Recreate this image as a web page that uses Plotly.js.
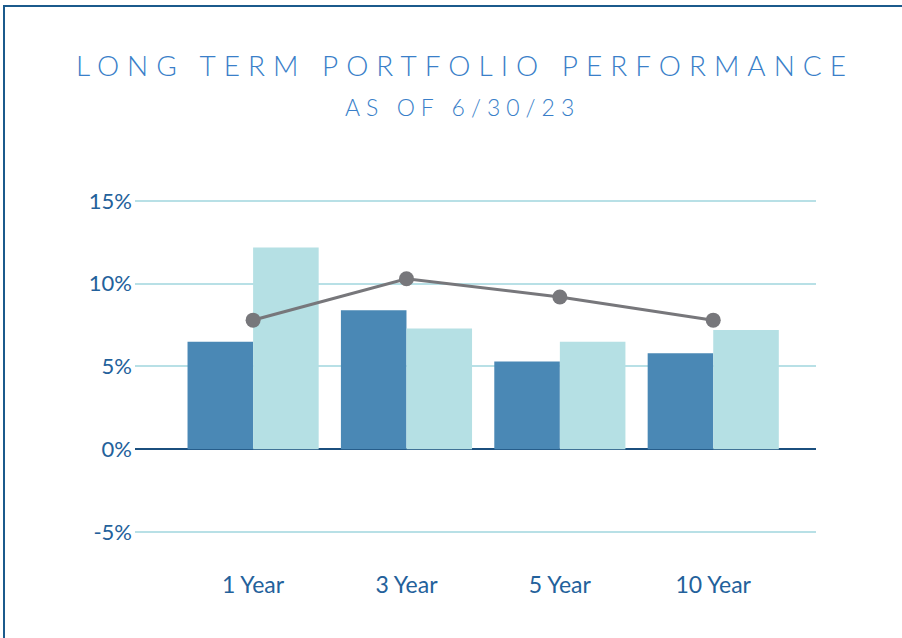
<!DOCTYPE html>
<html>
<head>
<meta charset="utf-8">
<script src="https://cdn.plot.ly/plotly-3.0.1.min.js"></script>
<style>
  html, body { margin: 0; padding: 0; background: #ffffff; }
  #wrap { position: relative; width: 902px; height: 638px; overflow: hidden; }
  #frame { position: absolute; left: 3px; top: 5px; width: 920px; height: 700px;
           border-left: 2.5px solid #1b5a8c; border-top: 2.5px solid #1b5a8c; box-sizing: border-box; pointer-events: none; z-index: 5; }
  #chart { position: absolute; left: 0; top: 0; width: 902px; height: 638px; }
  .gtitle { letter-spacing: 8px; }
  .annotation-text { letter-spacing: 6px; }
</style>
</head>
<body>
<div id="wrap">
  <div id="chart"></div>
  <div id="frame"></div>
</div>
<script>
const categories = ["1 Year", "3 Year", "5 Year", "10 Year"];
const seriesA = [6.5, 8.4, 5.3, 5.8];
const seriesB = [12.2, 7.3, 6.5, 7.2];
const lineSeries = [7.8, 10.3, 9.2, 7.8];
const yTickVals = [-5, 0, 5, 10, 15];
const yTickText = ["-5%", "0%", "5%", "10%", "15%"];

const yTickFont = { family: "Lato, 'Open Sans', sans-serif", size: 22, color: "#23619b", weight: 400 };
const xTickFont = { family: "Lato, 'Open Sans', sans-serif", size: 23, color: "#23619b", weight: 400 };

const data = [
  { type: "bar", x: categories, y: seriesA, marker: { color: "#4a88b5" }, hoverinfo: "skip", showlegend: false },
  { type: "bar", x: categories, y: seriesB, marker: { color: "#b5e0e4" }, hoverinfo: "skip", showlegend: false },
  { type: "scatter", mode: "lines+markers", x: categories, y: lineSeries,
    line: { color: "#77777b", width: 3 }, marker: { color: "#77777b", size: 15 },
    hoverinfo: "skip", showlegend: false }
];

const layout = {
  width: 902, height: 638,
  paper_bgcolor: "#ffffff", plot_bgcolor: "#ffffff",
  margin: { l: 135, r: 86, t: 168, b: 78 },
  barmode: "group", bargap: 0.145, bargroupgap: 0,
  showlegend: false,
  title: {
    text: "LONG TERM PORTFOLIO PERFORMANCE",
    font: { family: "Lato, 'Open Sans', sans-serif", size: 28, color: "#3a7fc9", weight: 300 },
    x: 0.5155, xref: "container", xanchor: "center",
    y: 0.8966, yref: "container", yanchor: "middle"
  },
  annotations: [{
    text: "AS OF 6/30/23", xref: "paper", yref: "paper", x: 0.4816, y: 1, xanchor: "center", yanchor: "middle",
    yshift: 168 - 107, showarrow: false,
    font: { family: "Lato, 'Open Sans', sans-serif", size: 23, color: "#3a7fc9", weight: 300 }
  }],
  xaxis: {
    type: "category", range: [-0.77, 3.67], showgrid: false, zeroline: false, showline: false,
    ticks: "", tickfont: xTickFont, ticklabelstandoff: 9, fixedrange: true
  },
  yaxis: {
    range: [-6.7, 17], tickvals: yTickVals, ticktext: yTickText, tickfont: yTickFont,
    showgrid: true, gridcolor: "#b8e0e6", gridwidth: 2,
    zeroline: true, zerolinecolor: "#1b4f7e", zerolinewidth: 2,
    showline: false, ticks: "", ticklabelstandoff: 2, fixedrange: true
  }
};

Plotly.newPlot("chart", data, layout, { displayModeBar: false, staticPlot: true });
</script>
</body>
</html>
